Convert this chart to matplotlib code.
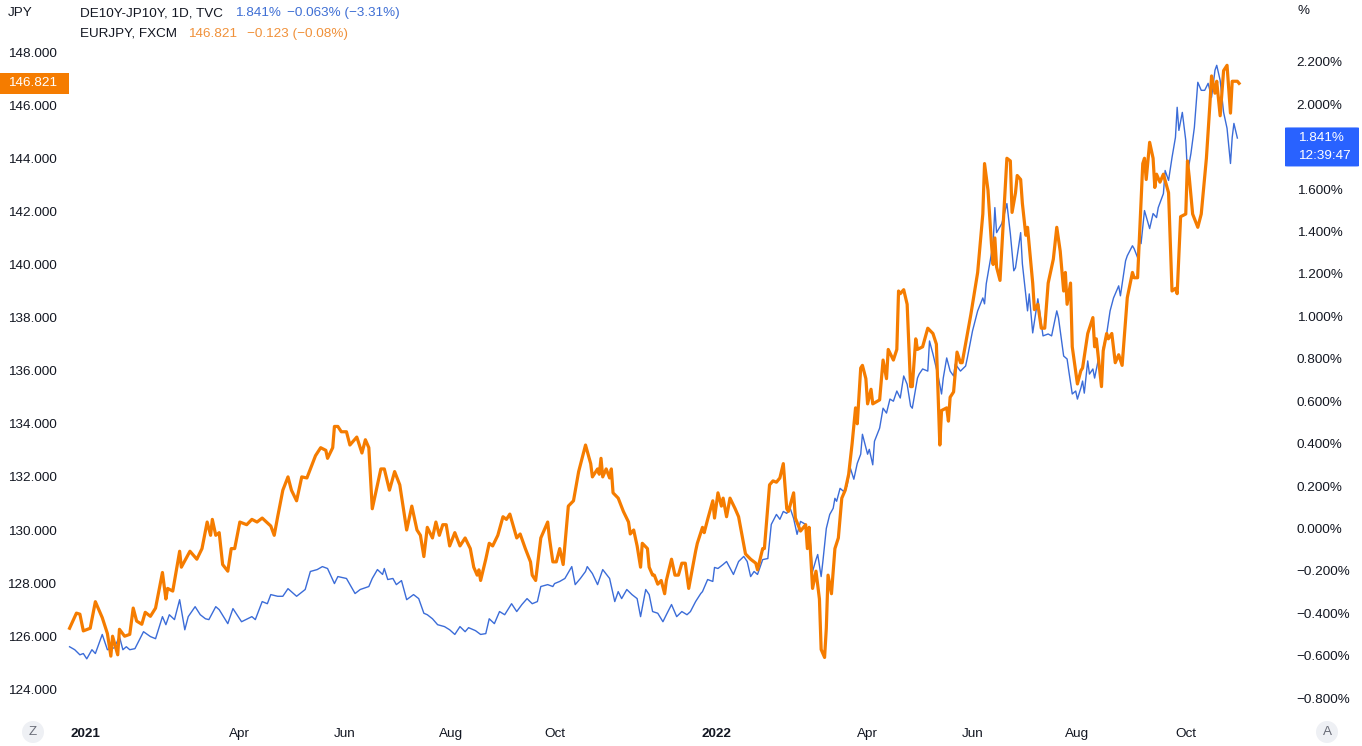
import pandas as pd
import matplotlib
matplotlib.use("Agg")
import matplotlib.pyplot as plt
import matplotlib.transforms as mtransforms
from matplotlib.patches import Rectangle, Circle, FancyBboxPatch

plt.rcParams['font.family'] = ['Liberation Sans', 'DejaVu Sans']
plt.rcParams['font.size'] = 9.7

base = pd.Timestamp('2021-01-01')

# EURJPY, FXCM (left axis, JPY) - days counted from 2021-01-01
eur_days = [-9, -5, -3, -1, 3, 6, 10, 13, 15, 16, 19, 20, 23, 26, 28, 30, 33, 35, 38, 41,
            45, 47, 48, 51, 55, 56, 61, 65, 68, 71, 73, 74, 76, 78, 80, 83, 85, 87, 90, 94,
            97, 100, 103, 108, 110, 112, 115, 118, 120, 123, 126, 129, 131, 134, 137, 140, 141, 144, 145, 147,
            149, 152, 154, 158, 161, 163, 165, 167, 172, 174, 177, 180, 183, 187, 190, 193, 195, 197, 199, 202,
            204, 206, 208, 210, 212, 215, 218, 221, 224, 226, 228, 229, 230, 233, 235, 237, 240, 243, 245, 247,
            251, 253, 256, 259, 260, 262, 265, 266, 269, 270, 272, 274, 276, 278, 281, 284, 287, 289, 291, 294,
            295, 298, 299, 300, 301, 303, 305, 306, 307, 310, 313, 316, 317, 319, 321, 323, 324, 327, 328, 330,
            331, 333, 335, 337, 338, 341, 343, 345, 347, 349, 351, 355, 356, 359, 360, 362, 365, 366, 368, 370,
            371, 373, 375, 378, 380, 382, 384, 387, 390, 391, 394, 395, 398, 400, 402, 404, 406, 408, 409, 412,
            413, 416, 419, 420, 421, 423, 425, 427, 428, 430, 431, 432, 434, 436, 438, 440, 442, 444, 446, 448,
            449, 451, 452, 454, 455, 457, 458, 462, 464, 466, 467, 470, 472, 473, 474, 476, 478, 480, 481, 483,
            484, 487, 490, 493, 495, 496, 497, 498, 501, 502, 503, 505, 507, 509, 510, 515, 519, 522, 523, 525,
            527, 528, 529, 530, 532, 534, 536, 538, 539, 541, 542, 544, 545, 547, 548, 551, 552, 554, 556, 558,
            560, 563, 565, 567, 569, 570, 571, 573, 574, 577, 579, 580, 583, 586, 587, 588, 591, 592, 594, 595,
            597, 599, 601, 603, 606, 609, 610, 612, 615, 616, 617, 619, 621, 622, 623, 625, 627, 630, 632, 634,
            635, 637, 640, 641, 642, 644, 647, 649, 652, 654, 655, 657, 658, 660, 662, 664, 666, 667, 670, 671]
eur_vals = [126.3, 126.87, 126.83, 126.2, 126.3, 127.3, 126.7, 126.1, 125.25, 126.0, 125.3, 126.26, 126.0, 126.07, 127.06, 126.57, 126.45, 126.9, 126.75, 127.06,
            128.4, 127.4, 127.8, 127.7, 129.2, 128.6, 129.2, 128.9, 129.3, 130.3, 129.8, 130.4, 129.8, 129.9, 128.7, 128.45, 129.3, 129.3, 130.3, 130.2,
            130.4, 130.3, 130.45, 130.15, 129.8, 130.5, 131.5, 132.0, 131.5, 131.1, 132.0, 131.96, 132.3, 132.8, 133.1, 133.0, 132.7, 133.1, 133.9, 133.9,
            133.7, 133.7, 133.2, 133.5, 132.9, 133.4, 133.1, 130.8, 132.3, 132.3, 131.5, 132.2, 131.7, 130.0, 130.9, 130.0, 129.8, 129.0, 130.1, 129.7,
            130.3, 129.8, 130.2, 130.2, 129.4, 129.9, 129.4, 129.7, 129.3, 128.6, 128.3, 128.5, 128.1, 128.9, 129.5, 129.4, 129.8, 130.5, 130.4, 130.6,
            129.7, 129.85, 129.3, 128.8, 128.3, 128.1, 129.7, 129.85, 130.3, 129.7, 128.8, 128.8, 129.3, 128.7, 130.9, 131.1, 132.2, 132.7, 133.2, 132.5,
            132.0, 132.3, 132.1, 132.7, 132.0, 132.3, 131.96, 132.3, 131.4, 131.2, 130.7, 130.3, 129.85, 130.0, 129.4, 128.6, 129.5, 129.3, 128.6, 128.3,
            128.3, 127.96, 128.1, 127.6, 128.1, 128.9, 128.3, 128.3, 128.75, 128.75, 127.8, 129.2, 129.5, 130.1, 129.9, 130.4, 131.1, 130.45, 131.4, 130.9,
            131.2, 130.5, 131.2, 130.8, 130.5, 129.8, 129.1, 128.9, 128.75, 128.5, 129.3, 129.3, 131.7, 131.85, 131.8, 131.96, 132.5, 130.8, 130.7, 131.4,
            130.45, 129.96, 130.2, 129.3, 130.1, 127.8, 128.45, 127.4, 125.5, 125.2, 126.3, 128.3, 127.6, 129.3, 129.7, 131.2, 131.5, 132.1, 133.25, 134.6,
            134.0, 136.1, 136.2, 135.7, 134.75, 135.3, 134.75, 134.9, 136.4, 135.7, 136.8, 136.4, 136.8, 139.0, 138.9, 139.05, 138.5, 135.4, 135.4, 137.2,
            136.8, 136.9, 137.6, 137.4, 137.0, 135.1, 133.2, 134.5, 134.6, 134.1, 135.0, 135.2, 136.7, 136.3, 136.3, 138.1, 139.7, 141.9, 143.8, 142.8,
            140.8, 140.0, 141.0, 139.9, 139.4, 141.7, 144.0, 143.9, 141.96, 142.7, 143.35, 143.2, 142.3, 141.1, 141.4, 139.3, 138.3, 138.5, 137.6, 137.6,
            139.3, 140.2, 141.4, 140.5, 139.0, 139.7, 138.5, 139.3, 136.9, 135.5, 136.0, 136.1, 137.4, 138.0, 136.9, 137.2, 135.4, 136.75, 137.4, 137.2,
            137.4, 136.3, 136.6, 136.2, 138.75, 139.7, 139.5, 139.5, 143.8, 144.0, 143.2, 144.6, 144.0, 142.9, 143.4, 143.1, 143.4, 142.7, 139.0, 139.1,
            138.9, 141.8, 141.9, 143.9, 143.3, 141.9, 141.4, 141.9, 144.0, 146.0, 147.1, 146.45, 146.9, 145.6, 147.3, 147.5, 145.7, 146.9, 146.9, 146.821]

# DE10Y-JP10Y spread, 1D, TVC (right axis, %)
spr_days = [-9, -6, -3, -1, 1, 4, 6, 10, 13, 17, 20, 22, 24, 26, 29, 34, 38, 41, 45, 47,
            49, 52, 55, 58, 60, 64, 67, 70, 72, 76, 78, 83, 86, 91, 97, 99, 103, 106, 108, 112,
            115, 118, 123, 128, 131, 135, 138, 141, 145, 147, 152, 157, 160, 165, 167, 170, 173, 174, 176, 179,
            181, 184, 187, 191, 194, 197, 199, 202, 205, 209, 212, 215, 218, 221, 223, 227, 230, 233, 235, 238,
            241, 244, 248, 251, 254, 257, 260, 263, 265, 269, 272, 273, 276, 279, 283, 285, 288, 291, 292, 295,
            298, 301, 305, 308, 310, 312, 315, 318, 321, 323, 326, 328, 330, 333, 336, 338, 341, 344, 347, 350,
            352, 355, 358, 359, 362, 365, 366, 368, 371, 373, 377, 380, 383, 385, 387, 389, 391, 394, 397, 399,
            402, 404, 406, 408, 410, 412, 414, 416, 419, 420, 421, 423, 425, 426, 428, 429, 431, 433, 435, 436,
            437, 439, 441, 443, 445, 447, 449, 451, 452, 455, 456, 458, 459, 462, 464, 466, 468, 470, 472, 474,
            476, 478, 480, 481, 484, 485, 487, 490, 491, 493, 496, 498, 499, 501, 503, 505, 506, 509, 512, 513,
            516, 519, 522, 523, 524, 526, 528, 529, 530, 533, 534, 536, 538, 540, 541, 544, 545, 548, 549, 551,
            554, 557, 560, 562, 565, 566, 569, 571, 572, 574, 576, 577, 579, 580, 581, 583, 584, 586, 587, 589,
            591, 592, 594, 596, 598, 601, 602, 605, 606, 609, 610, 612, 613, 614, 616, 619, 621, 623, 624, 627,
            628, 630, 632, 634, 635, 636, 638, 640, 641, 643, 645, 647, 649, 651, 653, 655, 657, 658, 660, 662,
            664, 666, 667, 668, 670]
spr_vals = [-0.558, -0.572, -0.596, -0.59, -0.615, -0.572, -0.59, -0.50, -0.572, -0.563, -0.51, -0.572, -0.558, -0.572, -0.567, -0.487, -0.51, -0.52, -0.416, -0.454,
            -0.407, -0.43, -0.336, -0.478, -0.416, -0.369, -0.407, -0.426, -0.43, -0.369, -0.383, -0.449, -0.378, -0.44, -0.416, -0.43, -0.345, -0.355, -0.312, -0.32,
            -0.32, -0.284, -0.32, -0.288, -0.203, -0.194, -0.18, -0.189, -0.26, -0.227, -0.236, -0.307, -0.288, -0.274, -0.236, -0.194, -0.217, -0.189, -0.241, -0.236,
            -0.265, -0.246, -0.336, -0.312, -0.331, -0.40, -0.407, -0.426, -0.454, -0.463, -0.478, -0.50, -0.463, -0.487, -0.468, -0.482, -0.50, -0.496, -0.426, -0.449,
            -0.392, -0.407, -0.355, -0.392, -0.359, -0.331, -0.355, -0.345, -0.274, -0.265, -0.274, -0.26, -0.25, -0.236, -0.18, -0.265, -0.236, -0.203, -0.18, -0.213,
            -0.265, -0.194, -0.236, -0.345, -0.298, -0.331, -0.288, -0.312, -0.331, -0.416, -0.288, -0.312, -0.392, -0.40, -0.44, -0.407, -0.359, -0.416, -0.392, -0.407,
            -0.392, -0.345, -0.307, -0.298, -0.241, -0.25, -0.184, -0.189, -0.17, -0.156, -0.217, -0.156, -0.132, -0.156, -0.227, -0.203, -0.217, -0.147, -0.142, 0.019,
            0.066, 0.043, 0.08, 0.071, 0.095, 0.047, -0.028, 0.033, 0.019, -0.028, 0.009, -0.203, -0.147, -0.123, -0.227, -0.156, 0.0, 0.066, 0.095, 0.142,
            0.128, 0.189, 0.175, 0.2, 0.284, 0.232, 0.307, 0.35, 0.444, 0.35, 0.373, 0.30, 0.411, 0.473, 0.567, 0.544, 0.61, 0.60, 0.648, 0.615,
            0.719, 0.68, 0.577, 0.567, 0.709, 0.728, 0.752, 0.742, 0.884, 0.823, 0.719, 0.634, 0.709, 0.804, 0.742, 0.719, 0.775, 0.742, 0.766, 0.804,
            0.931, 1.026, 1.087, 1.059, 1.154, 1.248, 1.343, 1.513, 1.395, 1.437, 1.466, 1.532, 1.39, 1.215, 1.229, 1.395, 1.248, 1.026, 1.106, 0.922,
            1.083, 0.908, 0.917, 0.908, 1.026, 0.993, 0.813, 0.799, 0.742, 0.634, 0.648, 0.61, 0.662, 0.695, 0.638, 0.79, 0.728, 0.752, 0.709, 0.79,
            0.728, 0.851, 0.917, 1.026, 1.087, 1.144, 1.097, 1.262, 1.286, 1.333, 1.319, 1.277, 1.381, 1.343, 1.499, 1.414, 1.485, 1.466, 1.513, 1.579,
            1.688, 1.641, 1.749, 1.844, 1.986, 1.877, 1.962, 1.830, 1.674, 1.768, 1.891, 2.104, 2.066, 2.066, 2.099, 2.033, 2.161, 2.184, 2.113, 1.962,
            1.887, 1.721, 1.844, 1.91, 1.841]

jpy_ticks = [124, 126, 128, 130, 132, 134, 136, 138, 140, 142, 144, 146, 148]
pct_ticks = [-0.8, -0.6, -0.4, -0.2, 0.0, 0.2, 0.4, 0.6, 0.8, 1.0, 1.2, 1.4, 1.6, 2.0, 2.2]
month_ticks = ['2021-01-01', '2021-04-01', '2021-06-01', '2021-08-02', '2021-10-01',
               '2022-01-03', '2022-04-01', '2022-06-01', '2022-08-01', '2022-10-03']
month_labels = ['2021', 'Apr', 'Jun', 'Aug', 'Oct', '2022', 'Apr', 'Jun', 'Aug', 'Oct']

ORANGE = '#f57c00'
BLUE = '#3b6cd8'
W, H = 1362, 746

eur_dates = base + pd.to_timedelta(eur_days, unit='D')
spr_dates = base + pd.to_timedelta(spr_days, unit='D')

fig = plt.figure(figsize=(W / 100, H / 100), dpi=100)
fig.patch.set_facecolor('white')

# main axes holds the % series (right scale), twin holds JPY (left scale)
ax = fig.add_axes([62 / W, 1 - 718 / H, (1285 - 62) / W, 718 / H])
ax.plot(spr_dates, spr_vals, color=BLUE, linewidth=1.0, zorder=2)
ax.set_ylim(-0.894, 2.492)

axj = ax.twinx()
axj.plot(eur_dates, eur_vals, color=ORANGE, linewidth=2.3, zorder=3, solid_joinstyle='round')
axj.set_ylim(122.92, 149.96)

# twinx puts the first axes on the left, so swap sides afterwards
ax.yaxis.tick_right()
ax.yaxis.set_label_position('right')
axj.yaxis.tick_left()
axj.yaxis.set_label_position('left')

ax.set_yticks(pct_ticks)
ax.set_yticklabels([f'{v:.3f}%'.replace('-', '\u2212') for v in pct_ticks])
ax.tick_params(axis='y', length=0, pad=8.5, labelcolor='#131722',
               left=False, labelleft=False, right=True, labelright=True)
axj.set_yticks(jpy_ticks)
axj.set_yticklabels([f'{v:.3f}' for v in jpy_ticks])
axj.tick_params(axis='y', length=0, pad=4, labelcolor='#131722',
                right=False, labelright=False, left=True, labelleft=True)

ax.set_xlim(base - pd.Timedelta(days=13.4), base + pd.Timedelta(days=697.7))
ax.set_xticks(pd.to_datetime(month_ticks))
ax.set_xticklabels(month_labels)
ax.tick_params(axis='x', length=0, pad=7, labelcolor='#131722')
for lbl in ax.get_xticklabels():
    if lbl.get_text() in ('2021', '2022'):
        lbl.set_fontweight('bold')

for a in (ax, axj):
    for s in a.spines.values():
        s.set_visible(False)
    a.set_facecolor('none')
    a.grid(False)


def fx(x):
    return x / W


def fy(y):
    return 1 - y / H


# legend lines at the top
fig.text(fx(8), fy(13), 'JPY', va='center', ha='left', color='#131722')
fig.text(fx(1297), fy(11), '%', va='center', ha='left', color='#131722')
fig.text(fx(80), fy(13), 'DE10Y-JP10Y, 1D, TVC', va='center', ha='left', color='#131722')
fig.text(fx(235), fy(13), '1.841%', va='center', ha='left', color='#3f6fd4')
fig.text(fx(287), fy(13), '\u22120.063% (\u22123.31%)', va='center', ha='left', color='#3f6fd4')
fig.text(fx(80), fy(34), 'EURJPY, FXCM', va='center', ha='left', color='#131722')
fig.text(fx(188), fy(34), '146.821', va='center', ha='left', color='#f0913a')
fig.text(fx(247), fy(34), '\u22120.123 (\u22120.08%)', va='center', ha='left', color='#f0913a')

# last-price labels on both scales
last_eur = eur_vals[-1]
trj = mtransforms.blended_transform_factory(fig.transFigure, axj.transData)
fig.patches.append(Rectangle((0, last_eur - 0.40), fx(69), 0.80, transform=trj,
                             facecolor=ORANGE, edgecolor='none', zorder=5))
fig.text(fx(8), last_eur, f'{last_eur:.3f}', transform=trj, va='center', ha='left',
         color='white', zorder=6)

last_spr = spr_vals[-1]
trp = mtransforms.blended_transform_factory(fig.transFigure, ax.transData)
fig.patches.append(FancyBboxPatch((fx(1285), last_spr - 0.134), fx(74), 0.184,
                                  boxstyle='round,pad=0,rounding_size=0.002', transform=trp,
                                  facecolor='#2962ff', edgecolor='none', zorder=5))
fig.text(fx(1298), last_spr, f'{last_spr:.3f}%', transform=trp, va='center', ha='left',
         color='white', zorder=6)
fig.text(fx(1298), last_spr - 0.086, '12:39:47', transform=trp, va='center', ha='left',
         color='white', zorder=6)

# round buttons in the corners (drawn in inches so they stay round)
for cx, letter in ((33, 'Z'), (1327, 'A')):
    fig.patches.append(Circle((cx / 100, (H - 732) / 100), 0.11, transform=fig.dpi_scale_trans,
                              facecolor='#eef0f4', edgecolor='none'))
    fig.text(fx(cx), fy(732), letter, ha='center', va='center', color='#6a6d78')

fig.savefig('out.png', dpi=100, facecolor='white')
